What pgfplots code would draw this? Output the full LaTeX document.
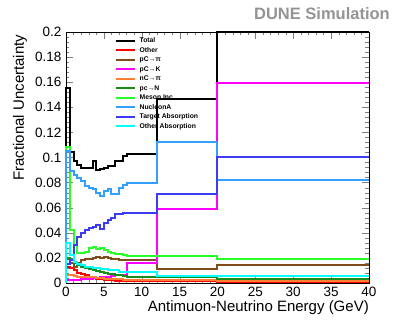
\documentclass[border=0pt]{standalone}
\usepackage{fontspec}
\setmainfont{Liberation Sans}
\usepackage{pgfplots}
\usepackage{pgfplotstable}
\pgfplotsset{compat=1.18}

\definecolor{cTot}{RGB}{0,0,0}
\definecolor{cOth}{RGB}{255,0,0}
\definecolor{cPcpi}{RGB}{128,76,25}
\definecolor{cPck}{RGB}{255,0,255}
\definecolor{cNcpi}{RGB}{255,128,51}
\definecolor{cPcn}{RGB}{25,140,25}
\definecolor{cMes}{RGB}{40,255,40}
\definecolor{cNuc}{RGB}{51,160,255}
\definecolor{cTab}{RGB}{60,60,245}
\definecolor{cOab}{RGB}{0,255,255}

% left bin edges, last row = right edge of last bin
\pgfplotstableread{
x    tot   oth    pcpi   pck    ncpi   pcn    mes    nuc   tab   oab
0    0     0      0      0      0      0      0      0     0     0
0    0.155 0.013  0.019  0.002  0.006  0.020  0.108  0.105 0.015 0.032
0.5  0.104 0.012  0.016  0.002  0.006  0.018  0.042  0.089 0.018 0.022
1.0  0.097 0.010  0.013  0.002  0.0055 0.016  0.030  0.086 0.030 0.017
1.5  0.094 0.008  0.016  0.0025 0.005  0.014  0.024  0.084 0.037 0.015
2.0  0.092 0.007  0.018  0.003  0.005  0.013  0.024  0.081 0.040 0.014
2.5  0.092 0.006  0.019  0.003  0.005  0.012  0.025  0.077 0.042 0.013
3.0  0.092 0.005  0.019  0.0035 0.0045 0.011  0.028  0.076 0.044 0.013
3.5  0.097 0.004  0.020  0.004  0.0045 0.010  0.029  0.075 0.045 0.012
4.0  0.090 0.0035 0.021  0.004  0.004  0.0095 0.027  0.072 0.046 0.012
4.5  0.091 0.003  0.020  0.0045 0.004  0.009  0.028  0.069 0.043 0.011
5.0  0.092 0.0025 0.021  0.005  0.0035 0.008  0.026  0.073 0.048 0.011
5.5  0.093 0.002  0.020  0.005  0.0035 0.0075 0.025  0.075 0.050 0.010
6.0  0.093 0.002  0.019  0.0055 0.003  0.007  0.024  0.071 0.052 0.010
6.5  0.097 0.0015 0.019  0.006  0.003  0.0065 0.023  0.071 0.055 0.010
7.0  0.097 0.0015 0.018  0.006  0.003  0.006  0.023  0.076 0.055 0.009
7.5  0.101 0.0015 0.018  0.0065 0.0025 0.0055 0.022  0.078 0.056 0.009
8    0.103 0.0015 0.018  0.016  0.0025 0.0048 0.0215 0.080 0.056 0.0085
12   0.147 0.0015 0.0115 0.059  0.002  0.0048 0.0215 0.112 0.071 0.0058
20   0.200 0.001  0.014  0.159  0.0015 0.003  0.019  0.082 0.100 0.0056
40   0.200 0.001  0.014  0.159  0.0015 0.003  0.019  0.082 0.100 0.0056
}\unc

\begin{document}
\begin{tikzpicture}
\begin{axis}[scale only axis,width=303pt,height=251pt,
	xmin=0,xmax=40,ymin=0,ymax=0.2,clip=false,
	xtick={0,5,...,40},ytick={0,0.02,...,0.2},
	minor x tick num=4,minor y tick num=4,
	tick align=inside,xtick pos=both,ytick pos=both,
	major tick length=7pt,minor tick length=3.5pt,
	scaled y ticks=false,
	yticklabel style={/pgf/number format/fixed,/pgf/number format/precision=2},
	/pgf/number format/assume math mode=true,
	tick label style={font=\fontsize{13.5}{14}\selectfont},
	xticklabel style={yshift=-1pt},
	yticklabel style={xshift=-1pt},
	label style={font=\fontsize{15}{16}\selectfont},
	xlabel={Antimuon-Neutrino Energy (GeV)},
	xlabel style={at={(axis description cs:1,-0.098)},anchor=east,inner sep=0pt},
	ylabel={Fractional Uncertainty},
	ylabel style={at={(axis description cs:-0.152,0.99)},anchor=east,inner sep=0pt},
	every axis plot/.append style={const plot,line width=2pt},
	legend style={at={(axis description cs:0.150,0.985)},anchor=north west,
		draw=none,fill=none,font=\fontsize{6.8}{7}\selectfont\bfseries,
		nodes={inner sep=0pt,text height=5pt,text depth=1pt},row sep=3.5pt,column sep=4pt},
	legend cell align=left,
	legend image code/.code={\draw[#1,line width=2pt](0pt,0pt)--(19pt,0pt);}]
\addplot[cTot] table[x=x,y=tot]{\unc};
\addlegendentry{Total}
\addplot[cOth] table[x=x,y=oth]{\unc};
\addlegendentry{Other}
\addplot[cPcpi] table[x=x,y=pcpi]{\unc};
\addlegendentry{pC→π}
\addplot[cPck] table[x=x,y=pck]{\unc};
\addlegendentry{pC→K}
\addplot[cNcpi] table[x=x,y=ncpi]{\unc};
\addlegendentry{nC→π}
\addplot[cPcn] table[x=x,y=pcn]{\unc};
\addlegendentry{pc→N}
\addplot[cMes] table[x=x,y=mes]{\unc};
\addlegendentry{Meson Inc}
\addplot[cNuc] table[x=x,y=nuc]{\unc};
\addlegendentry{NucleonA}
\addplot[cTab] table[x=x,y=tab]{\unc};
\addlegendentry{Target Absorption}
\addplot[cOab] table[x=x,y=oab]{\unc};
\addlegendentry{Other Absorption}
\coordinate (sw) at (rel axis cs:0,0);
\coordinate (ne) at (rel axis cs:1,1);
\end{axis}
\node[anchor=east,inner sep=0pt,text=black!42,font=\fontsize{16.5}{17}\selectfont\bfseries]
	at ([shift={(21pt,18pt)}]ne) {DUNE Simulation};
\pgfresetboundingbox
\path ([shift={(-66pt,-49pt)}]sw) rectangle ([shift={(30pt,32pt)}]ne);
\end{tikzpicture}
\end{document}
